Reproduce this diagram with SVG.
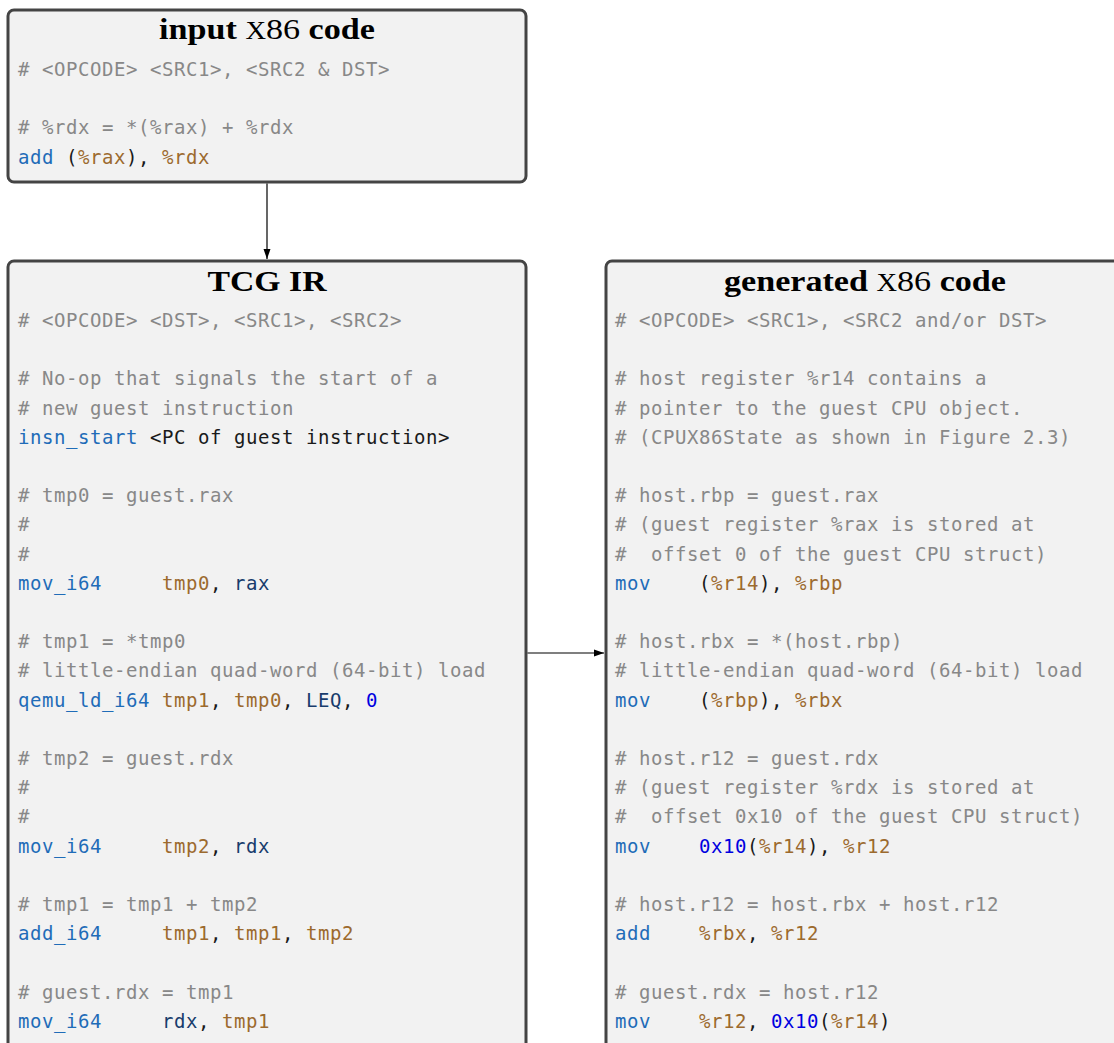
<svg xmlns="http://www.w3.org/2000/svg" width="1114" height="1043" viewBox="0 0 1114 1043">
  <defs>
    <marker id="arrow" viewBox="0 0 10 10" refX="10" refY="5" markerWidth="10" markerHeight="10" markerUnits="userSpaceOnUse" orient="auto">
      <path d="M0,1.5 L10,5 L0,8.5 Z" fill="#000"/>
    </marker>
  </defs>
  <style>
    .box { fill: #f2f2f2; stroke: #444; stroke-width: 3; }
    .title { font-family: "Liberation Serif", "Times New Roman", serif; font-size: 30px; font-weight: bold; fill: #000; }
    .sc { font-weight: normal; }
    .scx { text-transform: uppercase; font-size: 25px; }
    .code { font-family: "DejaVu Sans Mono", "Liberation Mono", monospace; font-size: 19px; letter-spacing: 0.56px; fill: #1a1a1a; }
    .cm { fill: #888888; }
    .op { fill: #1f6cb8; }
    .rg { fill: #9c6a2e; }
    .tv { fill: #183c6c; }
    .nm { fill: #0000e0; }
    .edge { stroke: #000; stroke-width: 1.2; fill: none; }
  </style>

  <!-- input x86 code -->
  <g id="input-x86">
    <rect class="box" x="8" y="10" width="518" height="172" rx="6"/>
    <text class="title" x="267" y="39" text-anchor="middle" textLength="216" lengthAdjust="spacingAndGlyphs">input <tspan class="sc"><tspan class="scx">x</tspan>86</tspan> code</text>
    <g class="code">
      <text xml:space="preserve" x="18" y="76" class="cm"># &lt;OPCODE&gt; &lt;SRC1&gt;, &lt;SRC2 &amp; DST&gt;</text>
      <text xml:space="preserve" x="18" y="134.4" class="cm"># %rdx = *(%rax) + %rdx</text>
      <text xml:space="preserve" x="18" y="163.6"><tspan class="op">add</tspan> (<tspan class="rg">%rax</tspan>), <tspan class="rg">%rdx</tspan></text>
    </g>
  </g>

  <!-- TCG intermediate representation -->
  <g id="tcg-ir">
    <rect class="box" x="8" y="261" width="518" height="800" rx="6"/>
    <text class="title" x="267" y="291" text-anchor="middle" textLength="119" lengthAdjust="spacingAndGlyphs">TCG IR</text>
    <g class="code">
      <text xml:space="preserve" x="18" y="327" class="cm"># &lt;OPCODE&gt; &lt;DST&gt;, &lt;SRC1&gt;, &lt;SRC2&gt;</text>
      <text xml:space="preserve" x="18" y="385.4" class="cm"># No-op that signals the start of a</text>
      <text xml:space="preserve" x="18" y="414.6" class="cm"># new guest instruction</text>
      <text xml:space="preserve" x="18" y="443.8"><tspan class="op">insn_start</tspan> &lt;PC of guest instruction&gt;</text>
      <text xml:space="preserve" x="18" y="502.2" class="cm"># tmp0 = guest.rax</text>
      <text xml:space="preserve" x="18" y="531.4" class="cm">#</text>
      <text xml:space="preserve" x="18" y="560.6" class="cm">#</text>
      <text xml:space="preserve" x="18" y="589.8"><tspan class="op">mov_i64</tspan>     <tspan class="rg">tmp0</tspan>, <tspan class="tv">rax</tspan></text>
      <text xml:space="preserve" x="18" y="648.2" class="cm"># tmp1 = *tmp0</text>
      <text xml:space="preserve" x="18" y="677.4" class="cm"># little-endian quad-word (64-bit) load</text>
      <text xml:space="preserve" x="18" y="706.6"><tspan class="op">qemu_ld_i64</tspan> <tspan class="rg">tmp1</tspan>, <tspan class="rg">tmp0</tspan>, <tspan class="tv">LEQ</tspan>, <tspan class="nm">0</tspan></text>
      <text xml:space="preserve" x="18" y="765" class="cm"># tmp2 = guest.rdx</text>
      <text xml:space="preserve" x="18" y="794.2" class="cm">#</text>
      <text xml:space="preserve" x="18" y="823.4" class="cm">#</text>
      <text xml:space="preserve" x="18" y="852.6"><tspan class="op">mov_i64</tspan>     <tspan class="rg">tmp2</tspan>, <tspan class="tv">rdx</tspan></text>
      <text xml:space="preserve" x="18" y="911" class="cm"># tmp1 = tmp1 + tmp2</text>
      <text xml:space="preserve" x="18" y="940.2"><tspan class="op">add_i64</tspan>     <tspan class="rg">tmp1</tspan>, <tspan class="rg">tmp1</tspan>, <tspan class="rg">tmp2</tspan></text>
      <text xml:space="preserve" x="18" y="998.6" class="cm"># guest.rdx = tmp1</text>
      <text xml:space="preserve" x="18" y="1027.8"><tspan class="op">mov_i64</tspan>     <tspan class="tv">rdx</tspan>, <tspan class="rg">tmp1</tspan></text>
    </g>
  </g>

  <!-- generated host x86 code -->
  <g id="generated-x86">
    <rect class="box" x="606" y="261" width="518" height="800" rx="6"/>
    <text class="title" x="865" y="291" text-anchor="middle" textLength="282" lengthAdjust="spacingAndGlyphs">generated <tspan class="sc"><tspan class="scx">x</tspan>86</tspan> code</text>
    <g class="code">
      <text xml:space="preserve" x="615" y="327" class="cm"># &lt;OPCODE&gt; &lt;SRC1&gt;, &lt;SRC2 and/or DST&gt;</text>
      <text xml:space="preserve" x="615" y="385.4" class="cm"># host register %r14 contains a</text>
      <text xml:space="preserve" x="615" y="414.6" class="cm"># pointer to the guest CPU object.</text>
      <text xml:space="preserve" x="615" y="443.8" class="cm"># (CPUX86State as shown in Figure 2.3)</text>
      <text xml:space="preserve" x="615" y="502.2" class="cm"># host.rbp = guest.rax</text>
      <text xml:space="preserve" x="615" y="531.4" class="cm"># (guest register %rax is stored at</text>
      <text xml:space="preserve" x="615" y="560.6" class="cm">#  offset 0 of the guest CPU struct)</text>
      <text xml:space="preserve" x="615" y="589.8"><tspan class="op">mov</tspan>    (<tspan class="rg">%r14</tspan>), <tspan class="rg">%rbp</tspan></text>
      <text xml:space="preserve" x="615" y="648.2" class="cm"># host.rbx = *(host.rbp)</text>
      <text xml:space="preserve" x="615" y="677.4" class="cm"># little-endian quad-word (64-bit) load</text>
      <text xml:space="preserve" x="615" y="706.6"><tspan class="op">mov</tspan>    (<tspan class="rg">%rbp</tspan>), <tspan class="rg">%rbx</tspan></text>
      <text xml:space="preserve" x="615" y="765" class="cm"># host.r12 = guest.rdx</text>
      <text xml:space="preserve" x="615" y="794.2" class="cm"># (guest register %rdx is stored at</text>
      <text xml:space="preserve" x="615" y="823.4" class="cm">#  offset 0x10 of the guest CPU struct)</text>
      <text xml:space="preserve" x="615" y="852.6"><tspan class="op">mov</tspan>    <tspan class="nm">0x10</tspan>(<tspan class="rg">%r14</tspan>), <tspan class="rg">%r12</tspan></text>
      <text xml:space="preserve" x="615" y="911" class="cm"># host.r12 = host.rbx + host.r12</text>
      <text xml:space="preserve" x="615" y="940.2"><tspan class="op">add</tspan>    <tspan class="rg">%rbx</tspan>, <tspan class="rg">%r12</tspan></text>
      <text xml:space="preserve" x="615" y="998.6" class="cm"># guest.rdx = host.r12</text>
      <text xml:space="preserve" x="615" y="1027.8"><tspan class="op">mov</tspan>    <tspan class="rg">%r12</tspan>, <tspan class="nm">0x10</tspan>(<tspan class="rg">%r14</tspan>)</text>
    </g>
  </g>

  <!-- connectors -->
  <g id="connectors">
    <line class="edge" x1="267" y1="183.5" x2="267" y2="259" marker-end="url(#arrow)"/>
    <line class="edge" x1="527.5" y1="653" x2="604" y2="653" marker-end="url(#arrow)"/>
  </g>
</svg>
